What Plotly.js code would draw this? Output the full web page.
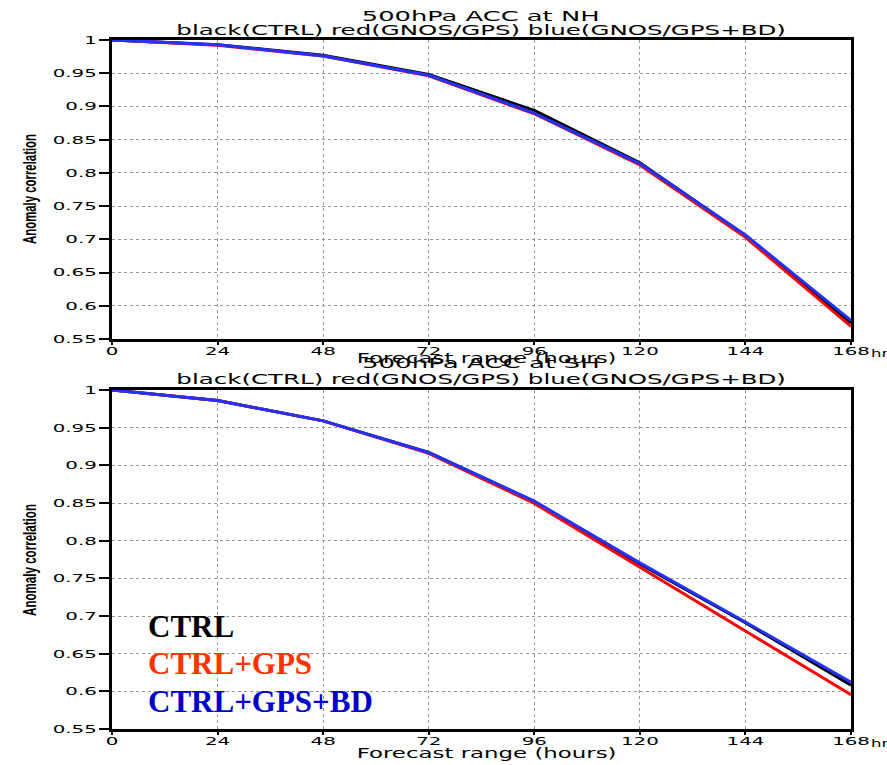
<!DOCTYPE html>
<html>
<head>
<meta charset="utf-8">
<script src="https://cdn.plot.ly/plotly-3.0.1.min.js"></script>
<style>html,body{margin:0;padding:0;background:#fff;}#chart{width:887px;height:765px;}</style>
</head>
<body>
<div id="chart"></div>
<script>
// Forecast hours
const hours = [0, 24, 48, 72, 96, 120, 144, 168];
const xTickVals = [0, 24, 48, 72, 96, 120, 144, 168];
const xTickText = ['0', '24', '48', '72', '96', '120', '144', '168'];
const yTickVals = [0.55, 0.6, 0.65, 0.7, 0.75, 0.8, 0.85, 0.9, 0.95, 1];
const yTickText = ['0.55', '0.6', '0.65', '0.7', '0.75', '0.8', '0.85', '0.9', '0.95', '1'];

// 500hPa ACC, Northern Hemisphere
const nhCtrl   = [1, 0.993, 0.977, 0.948, 0.894, 0.815, 0.706, 0.574];
const nhGps    = [1, 0.992, 0.976, 0.946, 0.889, 0.812, 0.703, 0.569];
const nhGpsBd  = [1, 0.993, 0.976, 0.947, 0.890, 0.814, 0.7065, 0.578];
// 500hPa ACC, Southern Hemisphere
const shCtrl   = [1, 0.986, 0.959, 0.917, 0.852, 0.769, 0.691, 0.608];
const shGps    = [1, 0.986, 0.959, 0.916, 0.8495, 0.7645, 0.680, 0.5955];
const shGpsBd  = [1, 0.986, 0.959, 0.917, 0.8525, 0.7705, 0.692, 0.612];

const W = 887, H = 765;
const px = v => v / W;
const py = v => 1 - v / H;

const colCtrl = '#000000', colGps = '#ff0000', colBd = '#2233ff';

function tr(y, color, xa, ya) {
  return {x: hours, y: y, type: 'scatter', mode: 'lines', xaxis: xa, yaxis: ya,
          line: {color: color, width: 3}, showlegend: false, hoverinfo: 'skip'};
}

const data = [
  tr(nhCtrl, colCtrl, 'x', 'y'), tr(nhGps, colGps, 'x', 'y'), tr(nhGpsBd, colBd, 'x', 'y'),
  tr(shCtrl, colCtrl, 'x2', 'y2'), tr(shGps, colGps, 'x2', 'y2'), tr(shGpsBd, colBd, 'x2', 'y2')
];

const tickFont = {family: 'DejaVu Sans', size: 11, color: '#000'};
const xDom = [px(112), px(851)];

function xax(anchor) {
  return {domain: xDom, anchor: anchor, range: [0, 168], tickvals: xTickVals, ticktext: xTickText,
    showline: true, mirror: true, linecolor: '#000', linewidth: 3,
    ticks: 'outside', ticklen: 3, tickwidth: 2, tickcolor: '#000', ticklabelstandoff: -3,
    showgrid: true, gridcolor: '#9a9a9a', gridwidth: 1, griddash: '3px,3px',
    zeroline: false, tickfont: tickFont, fixedrange: true};
}
function yax(anchor, dom) {
  return {domain: dom, anchor: anchor, range: [0.55, 1], tickvals: yTickVals, ticktext: yTickText,
    showline: true, mirror: true, linecolor: '#000', linewidth: 3,
    ticks: 'outside', ticklen: 10, tickwidth: 2, tickcolor: '#000',
    showgrid: true, gridcolor: '#9a9a9a', gridwidth: 1, griddash: '3px,3px',
    zeroline: false, tickfont: tickFont, fixedrange: true};
}

const titleFont = {family: 'DejaVu Sans', size: 14, color: '#000'};
const yTitleFont = {family: 'Liberation Sans, Arial, sans-serif', size: 18, color: '#000', weight: 'bold'};
const legFont = (c) => ({family: 'Liberation Serif, Times New Roman, serif', size: 31, color: c, weight: 'bold'});

// annotation builder; "w" = target drawn width in px (text is stretched to it after drawing)
const annWidths = [];
function ann(text, x, y, font, extra, w) {
  annWidths.push(w || null);
  return Object.assign({text: text, xref: 'paper', yref: 'paper', x: x, y: y, showarrow: false,
    xanchor: 'center', yanchor: 'middle', font: font}, extra || {});
}

const cx = px(481);
const annotations = [
  ann('500hPa ACC at NH', cx, py(16), titleFont, null, 238),
  ann('black(CTRL) red(GNOS/GPS) blue(GNOS/GPS+BD)', cx, py(30), titleFont, null, 610),
  ann('Forecast range (hours)', px(486), py(358), titleFont, null, 260),
  ann('500hPa ACC at SH', cx, py(363), titleFont, null, 238),
  ann('black(CTRL) red(GNOS/GPS) blue(GNOS/GPS+BD)', cx, py(379), titleFont, null, 610),
  ann('Forecast range (hours)', px(486), py(753), titleFont, null, 260),
  ann('Anomaly correlation', px(30), py(189), yTitleFont, {textangle: -90}, 110),
  ann('Anomaly correlation', px(30), py(560), yTitleFont, {textangle: -90}, 112),
  ann('hr', px(869), py(353), tickFont, {xanchor: 'left'}, 18),
  ann('hr', px(869), py(743), tickFont, {xanchor: 'left'}, 18),
  ann('<b>CTRL</b>', px(146), py(626), legFont('#000000'), {xanchor: 'left'}),
  ann('<b>CTRL+GPS</b>', px(146), py(663), legFont('#ff3300'), {xanchor: 'left'}),
  ann('<b>CTRL+GPS+BD</b>', px(146), py(701), legFont('#0000cc'), {xanchor: 'left'})
];

const layout = {
  width: W, height: H,
  margin: {l: 0, r: 0, t: 0, b: 0},
  paper_bgcolor: '#fff', plot_bgcolor: '#fff',
  xaxis: xax('y'), yaxis: yax('x', [py(339), py(40)]),
  xaxis2: xax('y2'), yaxis2: yax('x2', [py(729), py(390)]),
  annotations: annotations,
  showlegend: false
};

// stretch a drawn text horizontally (in its own writing direction), keeping an anchor point fixed
function stretchText(el, sx, anchor) {
  const bb = el.getBBox();
  if (!bb.width) return;
  const ax = anchor === 'end' ? bb.x + bb.width : anchor === 'start' ? bb.x : bb.x + bb.width / 2;
  const ay = bb.y + bb.height / 2;
  const prev = el.getAttribute('transform') || '';
  el.setAttribute('transform', (prev + ' translate(' + ax + ',' + ay + ') scale(' + sx + ',1) translate(' + (-ax) + ',' + (-ay) + ')').trim());
}

Plotly.newPlot('chart', data, layout, {staticPlot: true}).then(gd => {
  const tickSx = 1.8;
  gd.querySelectorAll('.xtick text, .x2tick text').forEach(t => stretchText(t, tickSx, 'middle'));
  gd.querySelectorAll('.ytick text, .y2tick text').forEach(t => stretchText(t, tickSx, 'end'));
  gd.querySelectorAll('.annotation').forEach(g => {
    const i = +g.getAttribute('data-index');
    const w = annWidths[i];
    if (!w) return;
    const t = g.querySelector('text.annotation-text') || g.querySelector('text');
    if (!t) return;
    const bb = t.getBBox();
    const anchor = (annotations[i].xanchor === 'left') ? 'start' : 'middle';
    stretchText(t, w / bb.width, anchor);
  });
});
</script>
</body>
</html>
